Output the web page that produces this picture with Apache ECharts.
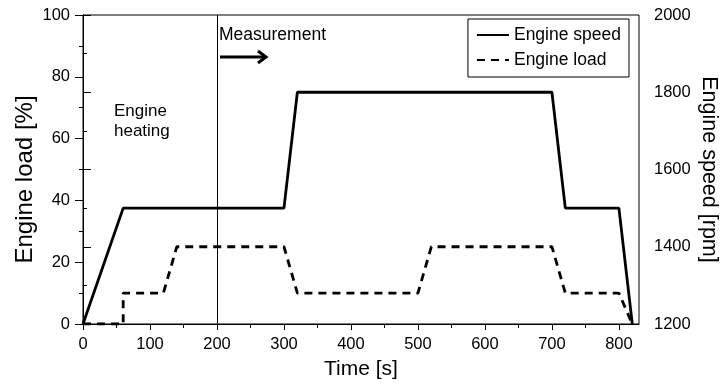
<!DOCTYPE html>
<html>
<head>
<meta charset="utf-8">
<script src="https://cdn.jsdelivr.net/npm/echarts@6/dist/echarts.min.js"></script>
<style>
  html, body { margin: 0; padding: 0; background: #fff; }
  #chart { width: 720px; height: 387px; }
</style>
</head>
<body>
<div id="chart"></div>
<script>
// engine speed profile (right axis, rpm)
const speedTime = [0, 60, 300, 320, 700, 720, 800, 820];
const speedValues = [1200, 1500, 1500, 1800, 1800, 1500, 1500, 1200];

// engine load profile (left axis, %)
const loadTime = [0, 60, 60, 120, 140, 300, 320, 500, 520, 700, 720, 800, 820];
const loadValues = [0, 0, 10, 10, 25, 25, 10, 10, 25, 25, 10, 10, 0];

const timeMajorTicks = [0, 100, 200, 300, 400, 500, 600, 700, 800];
const timeMinorTicks = [50, 150, 250, 350, 450, 550, 650, 750];
const measurementStart = 200;

const font = 'Liberation Sans, Arial, sans-serif';

document.addEventListener('DOMContentLoaded', function() {
  const chart = echarts.init(document.getElementById('chart'));
  const option = {
    animation: false,
    textStyle: { fontFamily: font, color: '#000' },
    grid: {
      left: 83, right: 81, top: 15, bottom: 63,
      outerBoundsMode: 'none',
      show: true, borderColor: '#000', borderWidth: 1, backgroundColor: 'transparent'
    },
    legend: {
      orient: 'vertical',
      right: 91, top: 19,
      padding: [7, 8, 8, 8],
      itemGap: 7,
      itemWidth: 32, itemHeight: 14,
      backgroundColor: '#fff',
      borderColor: '#000', borderWidth: 1, borderRadius: 0,
      itemStyle: { opacity: 0 },
      textStyle: { fontFamily: font, fontSize: 17.5, color: '#000' },
      data: ['Engine speed', 'Engine load']
    },
    xAxis: [
      {
        type: 'value', min: 0, max: 830,
        name: 'Time [s]', nameLocation: 'middle', nameGap: 35,
        nameTextStyle: { fontSize: 21, color: '#000', fontFamily: font },
        splitLine: { show: false },
        axisLine: { lineStyle: { color: '#000', width: 1 } },
        axisTick: { customValues: timeMajorTicks, length: 6, lineStyle: { color: '#000' } },
        axisLabel: { customValues: timeMajorTicks, fontSize: 16.5, color: '#000', margin: 12, fontFamily: font }
      },
      {
        type: 'value', min: 0, max: 830, position: 'bottom',
        splitLine: { show: false },
        axisLine: { show: false },
        axisTick: { customValues: timeMinorTicks, length: 4, lineStyle: { color: '#000' } },
        axisLabel: { show: false }
      }
    ],
    yAxis: [
      {
        type: 'value', min: 0, max: 100, interval: 20,
        name: 'Engine load [%]', nameLocation: 'middle', nameGap: 46, nameMoveOverlap: false,
        nameTextStyle: { fontSize: 24, color: '#000', fontFamily: font, padding: [0, 20, 0, 0] },
        splitLine: { show: false },
        axisLine: { show: true, lineStyle: { color: '#000', width: 1 } },
        axisTick: { length: 8, lineStyle: { color: '#000' } },
        minorTick: { show: true, splitNumber: 2, length: 4, lineStyle: { color: '#000' } },
        axisLabel: { fontSize: 16.5, color: '#000', margin: 13, fontFamily: font }
      },
      {
        type: 'value', min: 1200, max: 2000, interval: 200, position: 'right',
        name: 'Engine speed [rpm]', nameLocation: 'middle', nameGap: 59, nameRotate: -90, nameMoveOverlap: false,
        nameTextStyle: { fontSize: 21.5, color: '#000', fontFamily: font },
        splitLine: { show: false },
        axisLine: { show: true, lineStyle: { color: '#000', width: 1 } },
        axisTick: { length: 8, lineStyle: { color: '#000' } },
        minorTick: { show: true, splitNumber: 2, length: 4, lineStyle: { color: '#000' } },
        axisLabel: { fontSize: 16.5, color: '#000', margin: 15, fontFamily: font, formatter: v => String(v) }
      }
    ],
    series: [
      {
        name: 'Engine speed',
        type: 'line',
        yAxisIndex: 1,
        symbol: 'none',
        color: '#000',
        data: speedTime.map((t, i) => [t, speedValues[i]]),
        lineStyle: { color: '#000', width: 2.8 },
        markLine: {
          silent: true,
          symbol: 'none',
          label: { show: false },
          lineStyle: { color: '#000', width: 1, type: 'solid' },
          data: [{ xAxis: measurementStart }]
        }
      },
      {
        name: 'Engine load',
        type: 'line',
        yAxisIndex: 0,
        symbol: 'none',
        color: '#000',
        data: loadTime.map((t, i) => [t, loadValues[i]]),
        lineStyle: { color: '#000', width: 2.8, type: [8, 6] }
      }
    ],
    graphic: [
      {
        type: 'text', left: 114, top: 101,
        style: { text: 'Engine\nheating', font: '17px ' + font, fill: '#000', align: 'center', lineHeight: 20 }
      },
      {
        type: 'text', left: 219, top: 26,
        style: { text: 'Measurement', font: '17.5px ' + font, fill: '#000' }
      },
      {
        type: 'line', shape: { x1: 220, y1: 57, x2: 266, y2: 57 },
        style: { stroke: '#000', lineWidth: 3 }
      },
      {
        type: 'polyline', shape: { points: [[258, 51], [266, 57], [258, 63]] },
        style: { stroke: '#000', lineWidth: 3, fill: null }
      }
    ]
  };
  chart.setOption(option);
});
</script>
</body>
</html>
